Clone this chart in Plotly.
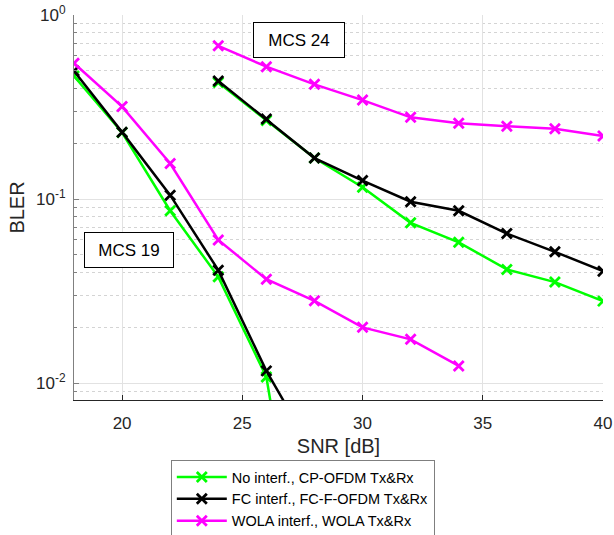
import plotly.graph_objects as go
import numpy as np

# SNR axes
snr_mcs19 = [18, 20, 22, 24, 26, 28]
snr_mcs19_wola = [18, 20, 22, 24, 26, 28, 30, 32, 34]
snr_mcs24 = [24, 26, 28, 30, 32, 34, 36, 38, 40]

# BLER values, MCS 19
bler19_cp = [0.466, 0.23, 0.0864, 0.0378, 0.0108, 0.0003]
bler19_fc = [0.496, 0.231, 0.105, 0.0411, 0.01166, 0.0041]
bler19_wola = [0.547, 0.318, 0.156, 0.060, 0.0367, 0.028, 0.0201, 0.0173, 0.0124]

# BLER values, MCS 24
bler24_cp = [0.43, 0.267, 0.167, 0.116, 0.0743, 0.0582, 0.0415, 0.0354, 0.0279]
bler24_fc = [0.438, 0.272, 0.167, 0.126, 0.0967, 0.0864, 0.065, 0.0517, 0.0406]
bler24_wola = [0.68, 0.524, 0.42, 0.345, 0.278, 0.258, 0.249, 0.241, 0.22]

names = ["No interf., CP-OFDM Tx&Rx", "FC interf., FC-F-OFDM Tx&Rx", "WOLA interf., WOLA Tx&Rx"]
colors = ["#00FF00", "#000000", "#FF00FF"]

x_ticks = [20, 25, 30, 35, 40]
y_tickvals = [0.01, 0.1, 1]
y_ticktext = ["10<sup>-2</sup>", "10<sup>-1</sup>", "10<sup>0</sup>"]

fig = go.Figure()

series = [
    (snr_mcs19, bler19_cp, 0, True),
    (snr_mcs19, bler19_fc, 1, True),
    (snr_mcs19_wola, bler19_wola, 2, True),
    (snr_mcs24, bler24_cp, 0, False),
    (snr_mcs24, bler24_fc, 1, False),
    (snr_mcs24, bler24_wola, 2, False),
]
for xs, ys, k, show in series:
    fig.add_trace(go.Scatter(
        x=xs, y=ys, mode="lines+markers", name=names[k],
        legendgroup=names[k], showlegend=show,
        line=dict(color=colors[k], width=2.5),
        marker=dict(symbol="x-thin", size=10, color=colors[k],
                    line=dict(color=colors[k], width=2.8)),
    ))

minor_vals = [m * 10.0 ** e for e in (-3, -2, -1) for m in range(2, 10)]

fig.update_layout(
    width=614, height=535,
    margin=dict(l=74, r=11, t=15, b=135, autoexpand=False),
    paper_bgcolor="white", plot_bgcolor="white",
    font=dict(family="Liberation Sans, Arial, sans-serif", size=17, color="#262626"),
    showlegend=True,
    legend=dict(
        x=0.183, y=-0.156, xanchor="left", yanchor="top",
        bordercolor="#7f7f7f", borderwidth=1, bgcolor="white",
        font=dict(size=14.5, color="#000000"),
        tracegroupgap=0, itemwidth=50,
    ),
    annotations=[
        dict(x=27.36, y=-0.136, xref="x", yref="y", text="MCS 24", showarrow=False,
             bordercolor="#000000", borderwidth=1, bgcolor="white",
             width=88, height=32, font=dict(size=17, color="#000000")),
        dict(x=20.29, y=-1.277, xref="x", yref="y", text="MCS 19", showarrow=False,
             bordercolor="#000000", borderwidth=1, bgcolor="white",
             width=86, height=32, font=dict(size=17, color="#000000")),
    ],
)

fig.update_xaxes(
    range=[18, 40], tickvals=x_ticks, ticks="inside", ticklen=5,
    tickcolor="#262626", showline=True, linecolor="#262626", linewidth=1,
    mirror=False, showgrid=True, gridcolor="#e2e2e2", gridwidth=1,
    zeroline=False, title=dict(text="SNR [dB]", standoff=6),
    tickfont=dict(size=17), ticklabelstandoff=8, ticklabeloverflow="allow",
)
fig.update_yaxes(
    type="log", range=[np.log10(0.0081), 0], tickvals=y_tickvals, ticktext=y_ticktext,
    ticks="inside", ticklen=5, tickcolor="#808080",
    showline=True, linecolor="#808080", linewidth=1,
    showgrid=True, gridcolor="#e2e2e2", gridwidth=1, zeroline=False,
    title=dict(text="BLER", standoff=6), tickfont=dict(size=17), ticklabelstandoff=4,
    ticklabeloverflow="allow",
    minor=dict(tickvals=minor_vals, ticks="inside", ticklen=3, tickcolor="#808080",
               showgrid=True, griddash="dot", gridcolor="#d4d4d4", gridwidth=1),
)

# remove the browser's default 8px body margin so the figure sits at the page origin
fig.write_html("out.html", config={"displayModeBar": False},
               post_script="document.body.style.margin='0';")
